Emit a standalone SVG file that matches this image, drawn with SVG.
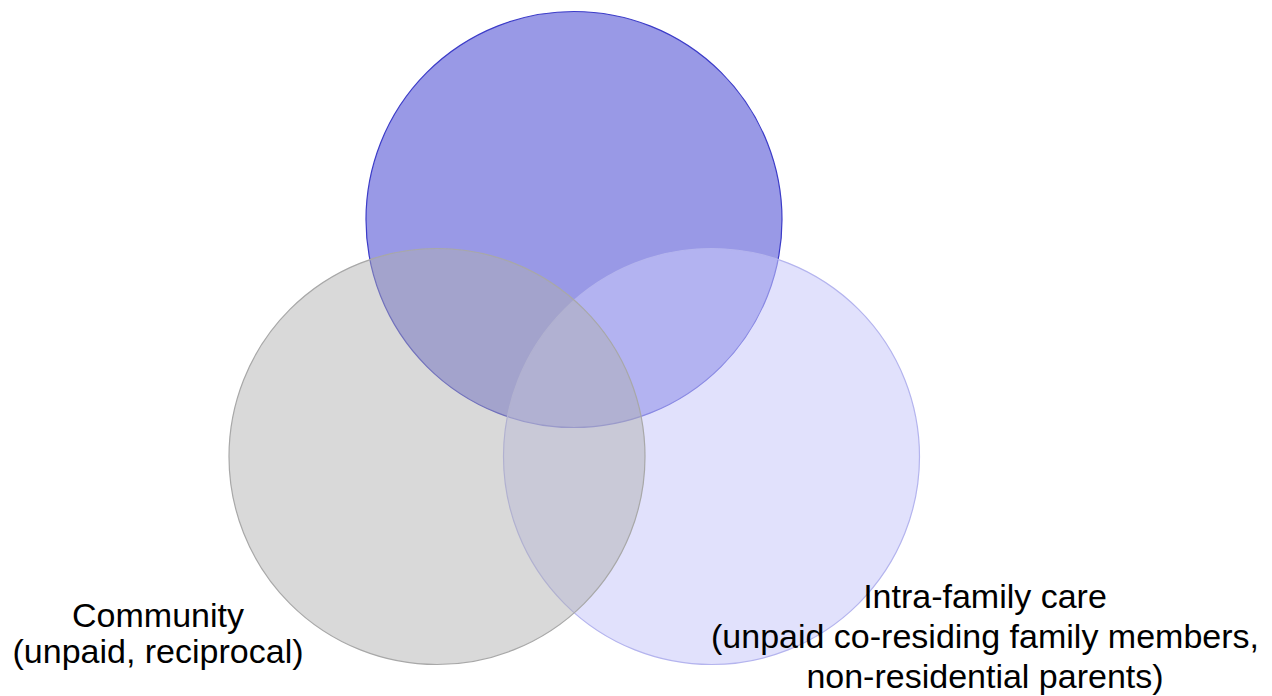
<svg xmlns="http://www.w3.org/2000/svg" width="1272" height="696" viewBox="0 0 1272 696">
<style>
.lbl{font-family:"Liberation Sans",Arial,sans-serif;font-size:34px;fill:#000;text-anchor:middle}
</style>
<rect width="1272" height="696" fill="#fff"/>
<g id="top-circle">
<circle cx="574" cy="219.5" r="208" fill="#9999e6" stroke="#3c3cc8" stroke-width="1.2"/>
</g>
<g id="intra-family">
<circle cx="711.5" cy="456.5" r="208" fill="rgb(200,200,249)" fill-opacity="0.55" stroke="#b4b4ee" stroke-width="1.2"/>
<text class="lbl" x="985" y="608">Intra-family care</text>
<text class="lbl" x="985" y="648">(unpaid co-residing family members,</text>
<text class="lbl" x="985" y="688">non-residential parents)</text>
</g>
<g id="community">
<circle cx="437" cy="456.5" r="208" fill="rgb(174,174,174)" fill-opacity="0.47" stroke="#a8a8a8" stroke-width="1.2"/>
<text class="lbl" x="158" y="627">Community</text>
<text class="lbl" x="158" y="663">(unpaid, reciprocal)</text>
</g>
</svg>
